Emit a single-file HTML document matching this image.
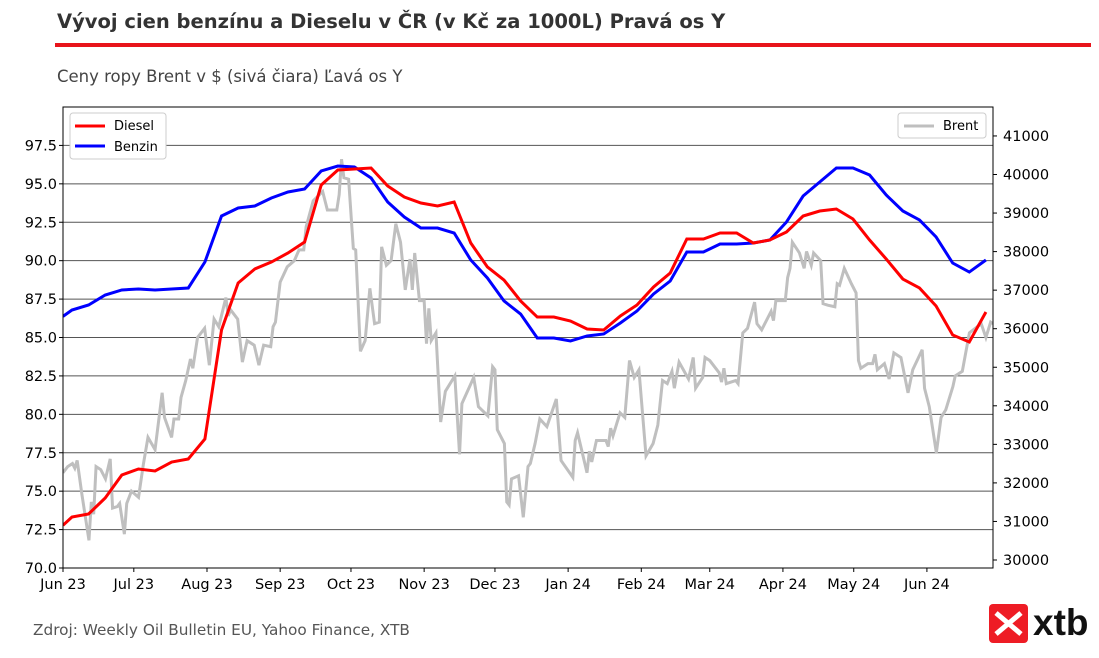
<!DOCTYPE html>
<html><head><meta charset="utf-8"><style>
body{margin:0;background:#fff;width:1099px;height:653px;overflow:hidden;font-family:"Liberation Sans","DejaVu Sans",sans-serif;}
</style></head><body>
<svg id="chart" width="1099" height="653" xmlns="http://www.w3.org/2000/svg" font-family="DejaVu Sans, Liberation Sans, sans-serif">
<text x="57" y="28" font-size="19.5" font-weight="bold" fill="#333">Vývoj cien benzínu a Dieselu v ČR (v Kč za 1000L) Pravá os Y</text>
<rect x="55" y="43" width="1036" height="4" fill="#e8141b"/>
<text x="57" y="82" font-size="16.5" fill="#444">Ceny ropy Brent v $ (sivá čiara) Ľavá os Y</text>
<g id="grid"></g>
<g id="series"></g>
<rect x="63" y="107" width="930" height="461" fill="none" stroke="#000" stroke-width="1"/>
<g id="axes"></g>
<g>
<rect x="70" y="113" width="96" height="46" rx="3" fill="#fff" stroke="#ccc"/>
<line x1="75" y1="126" x2="105" y2="126" stroke="#ff0000" stroke-width="3"/>
<text x="114" y="130" font-size="13">Diesel</text>
<line x1="75" y1="146" x2="105" y2="146" stroke="#0000ff" stroke-width="3"/>
<text x="114" y="151" font-size="13">Benzin</text>
</g>
<g>
<rect x="898" y="113" width="88" height="25" rx="3" fill="#fff" stroke="#ccc"/>
<line x1="904" y1="126" x2="934" y2="126" stroke="#bfbfbf" stroke-width="3"/>
<text x="943" y="130" font-size="13">Brent</text>
</g>
<text x="33" y="635" font-size="15.3" fill="#555">Zdroj: Weekly Oil Bulletin EU, Yahoo Finance, XTB</text>
<g>
<rect x="989" y="604" width="39" height="39" rx="4" fill="#ee1c25"/>
<path d="M996 613 L1021 634 M1021 613 L996 634" stroke="#fff" stroke-width="5"/>
<text x="1033" y="635" font-size="37" font-weight="bold" fill="#111" font-family="Liberation Sans, sans-serif">xtb</text>
</g>
</svg>
<script>
const monthLabels=["Jun 23","Jul 23","Aug 23","Sep 23","Oct 23","Nov 23","Dec 23","Jan 24","Feb 24","Mar 24","Apr 24","May 24","Jun 24"];
const monthDays=[0,30,61,92,122,153,183,214,245,274,305,335,366];
const leftTicks=[70,72.5,75,77.5,80,82.5,85,87.5,90,92.5,95,97.5];
const rightTicks=[30000,31000,32000,33000,34000,35000,36000,37000,38000,39000,40000,41000];
const diesel=[30900,31115,31193,31608,32205,32360,32309,32542,32620,33139,35966,37185,37549,37730,37964,38249,39728,40117,40143,40168,39702,39417,39261,39183,39287,38223,37601,37263,36719,36303,36303,36200,35992,35966,36330,36615,37082,37445,38327,38327,38482,38482,38223,38301,38508,38923,39053,39105,38845,38301,37808,37289,37056,36589,35837,35655,36433];
const benzin=[36320,36485,36615,36874,37004,37030,37004,37030,37056,37730,38923,39131,39183,39390,39546,39624,40091,40220,40194,39909,39287,38897,38612,38612,38482,37782,37315,36719,36381,35759,35759,35681,35811,35863,36148,36459,36900,37237,37990,37990,38197,38197,38223,38301,38768,39442,39806,40168,40168,39987,39468,39053,38820,38379,37704,37470,37782];
const brentDays=[0,2,4,5,6,8,11,12,13,14,16,18,20,21,23,24,26,27,29,32,34,36,39,42,43,46,47,49,50,52,54,55,57,60,62,64,66,69,70,71,74,76,78,81,83,85,88,89,90,92,95,98,100,102,103,106,110,112,116,117,118,119,121,123,124,126,128,130,132,134,135,137,139,141,143,145,147,148,149,151,153,154,155,156,158,160,162,166,168,169,174,176,180,182,183,184,187,188,189,190,193,195,197,198,200,202,205,209,211,216,217,218,222,223,224,226,230,231,232,233,236,238,240,242,244,247,250,252,254,256,258,259,261,265,267,268,271,272,274,278,279,280,281,285,286,288,290,293,294,296,300,301,302,306,307,308,309,312,314,315,317,318,321,322,324,327,328,329,331,334,336,337,338,341,343,344,345,348,350,352,355,358,360,364,365,367,370,372,374,377,378,381,384,389,391,393,394];
const brent=[76.2,76.6,76.8,76.5,77.0,74.8,71.8,74.3,73.5,76.6,76.4,75.8,77.1,73.9,74.0,74.2,72.2,74.2,75.0,74.6,76.7,78.5,77.7,81.4,79.8,78.5,79.7,79.7,81.1,82.2,83.6,83.0,85.0,85.6,83.2,86.2,85.7,87.6,86.4,86.8,86.2,83.4,84.8,84.5,83.2,84.5,84.4,85.7,86.0,88.6,89.6,90.0,90.7,90.7,92.2,93.9,94.5,93.3,93.3,94.3,96.6,95.4,95.3,90.8,90.7,84.1,84.8,88.2,85.9,86.0,90.9,89.7,90.0,92.4,91.2,88.1,90.1,88.1,90.5,87.4,87.4,84.6,86.9,84.8,85.3,79.5,81.5,82.5,77.4,80.7,82.4,80.5,79.9,83.1,82.9,79.0,78.1,74.3,74.1,75.8,76.0,73.3,76.6,76.8,78.1,79.7,79.2,81.0,77.0,75.9,78.3,78.8,76.2,77.6,76.9,78.3,78.3,77.9,79.1,78.6,80.1,79.8,83.5,82.4,82.9,77.3,78.1,79.3,82.2,82.0,82.8,81.7,83.4,82.3,83.7,81.7,82.4,83.7,83.5,82.7,82.1,83.0,82.0,82.2,82.0,85.3,85.6,87.3,85.9,85.5,86.7,86.1,87.4,87.4,88.9,89.5,91.2,90.5,89.5,90.6,89.7,90.5,90.0,87.2,87.1,87.0,88.5,88.4,89.5,88.5,87.9,83.5,83.0,83.3,83.3,83.9,82.9,83.3,82.3,84.0,83.7,81.4,82.9,84.2,81.7,80.5,77.5,79.8,80.3,81.8,82.5,82.8,85.3,85.9,85.0,86.0,85.9];
const NS="http://www.w3.org/2000/svg";
const X0=63,X1=993,Y0=568,Y1=107;
const xs=d=>X0+d*(X1-X0)/394;
const yL=v=>Y0-(v-70)*(Y0-Y1)/30;
const yR=v=>560-(v-30000)*0.03855;
const fuelDay=i=>i===0?0:3.8+7.04*(i-1);
function mk(tag,attrs,parent){const e=document.createElementNS(NS,tag);for(const k in attrs)e.setAttribute(k,attrs[k]);parent.appendChild(e);return e;}
const grid=document.getElementById('grid'),axes=document.getElementById('axes'),ser=document.getElementById('series');
leftTicks.forEach(t=>{
  const y=yL(t);
  if(t>70){const g=mk('line',{x1:X0,x2:X1,y1:y,y2:y,stroke:'#555','stroke-width':1},grid);
  
  }
  mk('line',{x1:X0-4,x2:X0,y1:y,y2:y,stroke:'#000'},axes);
  const tx=mk('text',{x:X0-6,y:y+5,'font-size':14.5,'text-anchor':'end'},axes);tx.textContent=t.toFixed(1);
  
  
});
rightTicks.forEach(t=>{
  const y=yR(t);
  mk('line',{x1:X1,x2:X1+4,y1:y,y2:y,stroke:'#000'},axes);
  const tx=mk('text',{x:X1+10,y:y+5,'font-size':14.5},axes);tx.textContent=t;
  
  
});
monthDays.forEach((d,i)=>{
  const x=xs(d);
  mk('line',{x1:x,x2:x,y1:Y0,y2:Y0+4,stroke:'#000'},axes);
  const tx=mk('text',{x:x,y:Y0+21,'font-size':14.5,'text-anchor':'middle'},axes);tx.textContent=monthLabels[i];
  
  
});
const clip=mk('clipPath',{id:'pc'},ser);mk('rect',{x:X0,y:Y1,width:X1-X0,height:Y0-Y1},clip);
const bp=mk('polyline',{points:brent.map((v,i)=>xs(brentDays[i])+','+yL(v)).join(' '),fill:'none',stroke:'#bfbfbf','stroke-width':3,'clip-path':'url(#pc)'},ser);


const bz=mk('polyline',{points:benzin.map((v,i)=>xs(fuelDay(i))+','+yR(v)).join(' '),fill:'none',stroke:'#0000ff','stroke-width':3,'clip-path':'url(#pc)'},ser);


const dz=mk('polyline',{points:diesel.map((v,i)=>xs(fuelDay(i))+','+yR(v)).join(' '),fill:'none',stroke:'#ff0000','stroke-width':3,'clip-path':'url(#pc)'},ser);


</script>
</body></html>
